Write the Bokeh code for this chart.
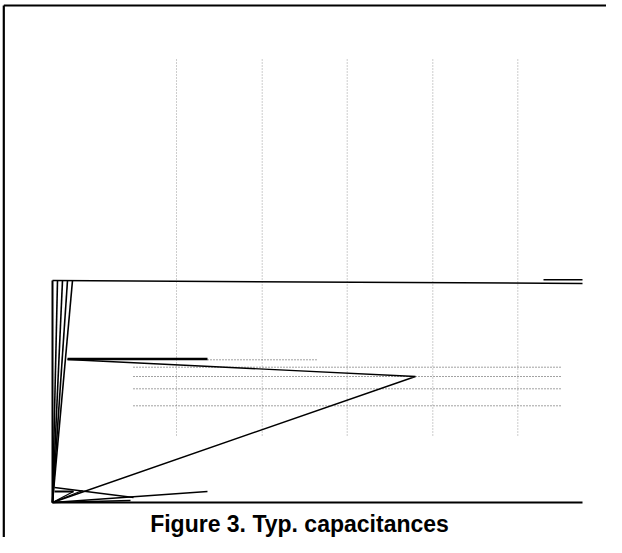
from bokeh.plotting import figure
from bokeh.models import Range1d
from bokeh.core.properties import value
from bokeh.embed import file_html
from bokeh.resources import INLINE

# ---- data (chart units: origin at the axis corner) ----
title = "Figure 3. Typ. capacitances"

# converging "comb" curves near the left axis
comb_top_x = [5, 10, 15, 20]
comb_top_y = 222

# long top curve
top_x = [0, 530]
top_y = [222, 219]
short_x = [491, 530]
short_y = [222.7, 222.7]

# thick plateau segment and the bent curve
plateau_x = [15, 155]
plateau_y = [143.5, 143.5]
bent_x = [15, 363, 0]
bent_y = [143, 126, 0]

# small curves near the origin
low_xs = [[0, 155], [2, 81], [0, 21], [0, 30], [0, 78]]
low_ys = [[0, 11], [15, 5], [0, 11], [0, 12], [0, 2]]
stub_x = [2, 21]
stub_y = [11, 11]

# axes
axis_left_x = [0, 0]
axis_left_y = [0, 222]
axis_bottom_x = [0, 530]
axis_bottom_y = [0, 0]

# grid
vgrid_x = [124, 209.7, 294.7, 380.3, 465.3]
vgrid_y = [67, 444.5]
hgrid_y = [135.3, 126, 113.7, 96.7]
hgrid_x = [81, 508]
hshort_x = [155, 266]
hshort_y = 142.7

# frame
frame_top_y = 497
frame_left_x = -48.7

p = figure(width=606, height=537, output_backend="svg", toolbar_location=None,
           x_range=Range1d(-52, 554), y_range=Range1d(-35, 502),
           min_border=0, min_border_left=0, min_border_right=0,
           min_border_top=0, min_border_bottom=0)
p.xaxis.visible = False
p.yaxis.visible = False
p.grid.visible = False
p.outline_line_color = None
p.background_fill_color = "white"
p.border_fill_color = "white"

# outer frame (top and left)
p.line([frame_left_x, 554], [frame_top_y, frame_top_y], line_color="black", line_width=2.2)
p.line([frame_left_x, frame_left_x], [-35, frame_top_y], line_color="black", line_width=2.2)

# grid
for gx in vgrid_x:
    p.line([gx, gx], vgrid_y, line_color="#9a9a9a", line_width=1, line_dash="1 2")
for gy in hgrid_y:
    p.line(hgrid_x, [gy, gy], line_color="#444444", line_width=1, line_dash="1 2")
p.line(hshort_x, [hshort_y, hshort_y], line_color="#444444", line_width=1, line_dash="1 2")

# curves
p.multi_line([[x, 0] for x in comb_top_x], [[comb_top_y, 0] for _ in comb_top_x],
             line_color="black", line_width=1.6)
p.line(top_x, top_y, line_color="black", line_width=1.5)
p.line(short_x, short_y, line_color="black", line_width=1.5)
p.line(plateau_x, plateau_y, line_color="black", line_width=2.6)
p.line(bent_x, bent_y, line_color="black", line_width=1.4)
p.multi_line(low_xs, low_ys, line_color="black", line_width=1.3)
p.line(stub_x, stub_y, line_color="black", line_width=2.2)

# axes
p.line(axis_left_x, axis_left_y, line_color="black", line_width=2)
p.line(axis_bottom_x, axis_bottom_y, line_color="black", line_width=2)

# caption
p.text(x=[247], y=[-21], text=[title], text_font=value("Liberation Sans"),
       text_font_style="bold", text_font_size="23px", text_align="center",
       text_baseline="middle", text_color="black")

open("out.html", "w").write(file_html(p, INLINE))
